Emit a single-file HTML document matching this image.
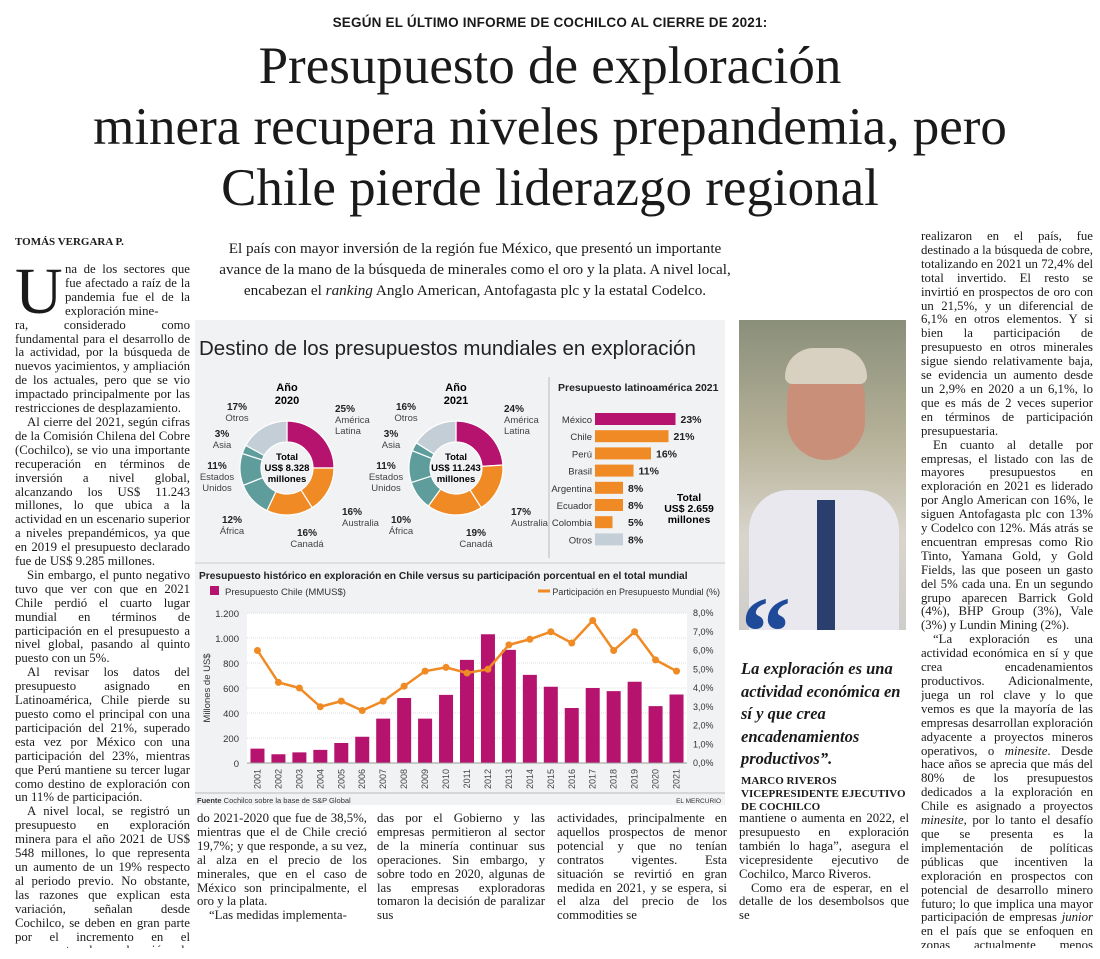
<!DOCTYPE html>
<html><head><meta charset="utf-8">
<style>
body{margin:0;width:1100px;height:959px;background:#fff;overflow:hidden;position:relative;font-family:"Liberation Serif",serif;color:#1a1a1a}
.abs{position:absolute}
.col{position:absolute;font-size:12.8px;line-height:13.9px;text-align:justify;hyphens:auto;overflow:hidden}
.col p{margin:0;text-indent:12px}
.sans{font-family:"Liberation Sans",sans-serif}
</style></head><body>
<div class="abs sans" style="left:0;width:1100px;top:15px;text-align:center;font-weight:bold;font-size:13.5px;letter-spacing:0.2px">SEGÚN EL ÚLTIMO INFORME DE COCHILCO AL CIERRE DE 2021:</div>
<div class="abs" style="left:0;width:1100px;top:36px;text-align:center;font-size:53px;line-height:61px">Presupuesto de exploración<br>minera recupera niveles prepandemia, pero<br>Chile pierde liderazgo regional</div>
<div class="abs" style="left:15px;top:236px;font-size:11px;font-weight:bold">TOMÁS VERGARA P.</div>
<div class="abs" style="left:215px;width:520px;top:238px;text-align:center;font-size:15.2px;line-height:21px">El país con mayor inversión de la región fue México, que presentó un importante<br>avance de la mano de la búsqueda de minerales como el oro y la plata. A nivel local,<br>encabezan el <i>ranking</i> Anglo American, Antofagasta plc y la estatal Codelco.</div>

<div class="col" style="left:15px;top:263px;width:175px;height:685px">
<span class="abs" style="left:0;top:-4px;font-size:66px;line-height:66px">U</span>
<p style="text-indent:0;padding-left:50px">na de los sectores que fue afectado a raíz de la pandemia fue el de la exploración mine-</p>
<p style="text-indent:0">ra, considerado como fundamental para el desarrollo de la actividad, por la búsqueda de nuevos yacimientos, y ampliación de los actuales, pero que se vio impactado principalmente por las restricciones de desplazamiento.</p>
<p>Al cierre del 2021, según cifras de la Comisión Chilena del Cobre (Cochilco), se vio una importante recuperación en términos de inversión a nivel global, alcanzando los US$ 11.243 millones, lo que ubica a la actividad en un escenario superior a niveles prepandémicos, ya que en 2019 el presupuesto declarado fue de US$ 9.285 millones.</p>
<p>Sin embargo, el punto negativo tuvo que ver con que en 2021 Chile perdió el cuarto lugar mundial en términos de participación en el presupuesto a nivel global, pasando al quinto puesto con un 5%.</p>
<p>Al revisar los datos del presupuesto asignado en Latinoamérica, Chile pierde su puesto como el principal con una participación del 21%, superado esta vez por México con una participación del 23%, mientras que Perú mantiene su tercer lugar como destino de exploración con un 11% de participación.</p>
<p>A nivel local, se registró un presupuesto en exploración minera para el año 2021 de US$ 548 millones, lo que representa un aumento de un 19% respecto al periodo previo. No obstante, las razones que explican esta variación, señalan desde Cochilco, se deben en gran parte por el incremento en el presupuesto de exploración de México en el perio-</p>
</div>

<div class="col" style="left:921px;top:230px;width:172px;height:718px">
<p style="text-indent:0">realizaron en el país, fue destinado a la búsqueda de cobre, totalizando en 2021 un 72,4% del total invertido. El resto se invirtió en prospectos de oro con un 21,5%, y un diferencial de 6,1% en otros elementos. Y si bien la participación de presupuesto en otros minerales sigue siendo relativamente baja, se evidencia un aumento desde un 2,9% en 2020 a un 6,1%, lo que es más de 2 veces superior en términos de participación presupuestaria.</p>
<p>En cuanto al detalle por empresas, el listado con las de mayores presupuestos en exploración en 2021 es liderado por Anglo American con 16%, le siguen Antofagasta plc con 13% y Codelco con 12%. Más atrás se encuentran empresas como Rio Tinto, Yamana Gold, y Gold Fields, las que poseen un gasto del 5% cada una. En un segundo grupo aparecen Barrick Gold (4%), BHP Group (3%), Vale (3%) y Lundin Mining (2%).</p>
<p>“La exploración es una actividad económica en sí y que crea encadenamientos productivos. Adicionalmente, juega un rol clave y lo que vemos es que la mayoría de las empresas desarrollan exploración adyacente a proyectos mineros operativos, o <i>minesite</i>. Desde hace años se aprecia que más del 80% de los presupuestos dedicados a la exploración en Chile es asignado a proyectos <i>minesite</i>, por lo tanto el desafío que se presenta es la implementación de políticas públicas que incentiven la exploración en prospectos con potencial de desarrollo minero futuro; lo que implica una mayor participación de empresas <i>junior</i> en el país que se enfoquen en zonas actualmente menos exploradas”, resume Riveros.</p>
</div>

<div class="col" style="left:197px;top:812px;width:170px"><p style="text-indent:0">do 2021-2020 que fue de 38,5%, mientras que el de Chile creció 19,7%; y que responde, a su vez, al alza en el precio de los minerales, que en el caso de México son principalmente, el oro y la plata.</p><p>“Las medidas implementa-</p></div>
<div class="col" style="left:377px;top:812px;width:168px"><p style="text-indent:0">das por el Gobierno y las empresas permitieron al sector de la minería continuar sus operaciones. Sin embargo, y sobre todo en 2020, algunas de las empresas exploradoras tomaron la decisión de paralizar sus</p></div>
<div class="col" style="left:557px;top:812px;width:170px"><p style="text-indent:0">actividades, principalmente en aquellos prospectos de menor potencial y que no tenían contratos vigentes. Esta situación se revirtió en gran medida en 2021, y se espera, si el alza del precio de los commodities se</p></div>
<div class="col" style="left:739px;top:812px;width:170px"><p style="text-indent:0">mantiene o aumenta en 2022, el presupuesto en exploración también lo haga”, asegura el vicepresidente ejecutivo de Cochilco, Marco Riveros.</p><p>Como era de esperar, en el detalle de los desembolsos que se</p></div>

<div class="abs" style="left:739px;top:320px;width:167px;height:310px;background:linear-gradient(#8a8f7a,#b8b39a 40%,#d9d5cc 70%,#cfcdca);overflow:hidden">
<div class="abs" style="left:48px;top:40px;width:78px;height:100px;border-radius:40px;background:#c98f78"></div>
<div class="abs" style="left:46px;top:28px;width:82px;height:36px;border-radius:40px 40px 10px 10px;background:#d8d0c0"></div>
<div class="abs" style="left:10px;top:170px;width:150px;height:140px;border-radius:40px 40px 0 0;background:#e8e8ee"></div>
<div class="abs" style="left:78px;top:180px;width:18px;height:130px;background:#2b3f6e"></div>
</div>
<div class="abs" style="left:741px;top:582px;font-size:100px;line-height:100px;color:#1f4a9a;font-weight:bold">“</div>
<div class="abs" style="left:741px;top:658px;width:172px;font-size:16.5px;line-height:22.5px;font-style:italic;font-weight:bold">La exploración es una actividad económica en sí y que crea encadenamientos productivos”.</div>
<div class="abs" style="left:741px;top:775px;font-size:11px;line-height:13px;font-weight:bold">MARCO RIVEROS<br>VICEPRESIDENTE EJECUTIVO<br>DE COCHILCO</div>

<svg class="abs" style="left:195px;top:320px" width="530" height="485" font-family="Liberation Sans, sans-serif">
<rect width="530" height="485" fill="#f1f2f4"/>
<text x="4" y="35" font-size="20.5" fill="#222">Destino de los presupuestos mundiales en exploración</text>
<line x1="354" y1="57" x2="354" y2="238" stroke="#bbb"/>
<g id="donuts"></g>
<g id="latam"></g>
<line x1="0" y1="243" x2="530" y2="243" stroke="#ccc"/>
<text x="4" y="259" font-size="10.2" font-weight="bold" fill="#222">Presupuesto histórico en exploración en Chile versus su participación porcentual en el total mundial</text>
<rect x="15" y="266" width="9" height="9" fill="#b5136e"/>
<text x="30" y="275" font-size="9.5" fill="#333">Presupuesto Chile (MMUS$)</text>
<line x1="343" y1="271" x2="355" y2="271" stroke="#f08a24" stroke-width="3"/>
<text x="525" y="275" font-size="9" text-anchor="end" fill="#333">Participación en Presupuesto Mundial (%)</text>
<g id="combo"></g>
<line x1="0" y1="473" x2="530" y2="473" stroke="#bbb"/>
<text x="2" y="483" font-size="7.5" fill="#333"><tspan font-weight="bold">Fuente</tspan>  Cochilco sobre la base de S&amp;P Global</text>
<text x="526" y="483" font-size="6.5" text-anchor="end" fill="#333">EL MERCURIO</text>
</svg>

<script>
const donutLabels=["América Latina","Australia","Canadá","África","Estados Unidos","Asia","Otros"];
const donut2020=[25,16,16,12,11,3,17];
const donut2021=[24,17,19,10,11,3,16];
const latamCountries=["México","Chile","Perú","Brasil","Argentina","Ecuador","Colombia","Otros"];
const latamShare=[23,21,16,11,8,8,5,8];
const years=["2001","2002","2003","2004","2005","2006","2007","2008","2009","2010","2011","2012","2013","2014","2015","2016","2017","2018","2019","2020","2021"];
const budgetChile=[115,70,85,105,160,210,355,520,355,545,825,1030,905,705,610,440,600,575,650,455,548];
const worldShare=[6.0,4.3,4.0,3.0,3.3,2.8,3.3,4.1,4.9,5.1,4.8,5.0,6.3,6.6,7.0,6.4,7.6,6.0,7.0,5.5,4.9];
const leftTicks=["0","200","400","600","800","1.000","1.200"];
const rightTicks=["0,0%","1,0%","2,0%","3,0%","4,0%","5,0%","6,0%","7,0%","8,0%"];

const NS="http://www.w3.org/2000/svg";
function mk(parent,tag,attrs,text){const e=document.createElementNS(NS,tag);for(const k in attrs)e.setAttribute(k,attrs[k]);if(text!==undefined)e.textContent=text;parent.appendChild(e);return e;}
const sliceColors=["#b5136e","#f08a24","#f08a24","#5f9c9c","#5f9c9c","#5f9c9c","#c3ced6"];
const labelPos=[[48,-56,"start"],[55,47,"start"],[20,68,"middle"],[-55,55,"middle"],[-70,1,"middle"],[-65,-31,"middle"],[-50,-58,"middle"]];

function drawDonut(g,cx,cy,vals,year,total){
  const R=47,r=26;const sum=vals.reduce((a,b)=>a+b,0);let a0=-Math.PI/2;
  vals.forEach((v,i)=>{
    const a1=a0+v/sum*2*Math.PI;const lg=(a1-a0)>Math.PI?1:0;
    const p=`M${cx+R*Math.cos(a0)},${cy+R*Math.sin(a0)}A${R},${R} 0 ${lg} 1 ${cx+R*Math.cos(a1)},${cy+R*Math.sin(a1)}L${cx+r*Math.cos(a1)},${cy+r*Math.sin(a1)}A${r},${r} 0 ${lg} 0 ${cx+r*Math.cos(a0)},${cy+r*Math.sin(a0)}Z`;
    const s=mk(g,"path",{d:p,fill:sliceColors[i],stroke:"#fff","stroke-width":1.2});
    
    
    const [dx,dy,anc]=labelPos[i];const lx=cx+dx,ly=cy+dy;
    const t=mk(g,"text",{x:lx,y:ly,"font-size":10,"font-weight":"bold","text-anchor":anc,fill:"#222"},vals[i]+"%");
    
    
    const words=donutLabels[i]==="Estados Unidos"?["Estados","Unidos"]:donutLabels[i].split(" ");
    words.forEach((w,k)=>mk(g,"text",{x:lx,y:ly+11+k*11,"font-size":9.5,"text-anchor":anc,fill:"#444"},w));
    a0=a1;
  });
  mk(g,"text",{x:cx,y:cy-8,"font-size":9.5,"font-weight":"bold","text-anchor":"middle"},"Total");
  mk(g,"text",{x:cx,y:cy+3,"font-size":9.5,"font-weight":"bold","text-anchor":"middle"},"US$ "+total);
  mk(g,"text",{x:cx,y:cy+14,"font-size":9.5,"font-weight":"bold","text-anchor":"middle"},"millones");
  mk(g,"text",{x:cx,y:cy-77,"font-size":11,"font-weight":"bold","text-anchor":"middle"},"Año");
  mk(g,"text",{x:cx,y:cy-64,"font-size":11,"font-weight":"bold","text-anchor":"middle"},year);
}
const dg=document.getElementById("donuts");
drawDonut(dg,92,148,donut2020,"2020","8.328");
drawDonut(dg,261,148,donut2021,"2021","11.243");

const lg=document.getElementById("latam");
mk(lg,"text",{x:363,y:71,"font-size":10.5,"font-weight":"bold",fill:"#222"},"Presupuesto latinoamérica 2021");
latamCountries.forEach((c,i)=>{
  const y=99+i*17.2;const w=latamShare[i]*3.5;
  mk(lg,"text",{x:397,y:y+4,"font-size":9.5,"text-anchor":"end",fill:"#333"},c);
  const b=mk(lg,"rect",{x:400,y:y-6,width:w,height:12,fill:i===0?"#b5136e":(c==="Otros"?"#c3ced6":"#f08a24")});
  
  
  mk(lg,"text",{x:405+Math.max(w,28),y:y+4,"font-size":10.5,"font-weight":"bold",fill:"#222"},latamShare[i]+"%");
});
["Total","US$ 2.659","millones"].forEach((t,k)=>mk(lg,"text",{x:494,y:181+k*11,"font-size":10.5,"font-weight":"bold","text-anchor":"middle"},t));

const cg=document.getElementById("combo");
const px0=52,px1=492,py0=443,py1=293;
const xs=i=>px0+(px1-px0)*(i+0.5)/years.length;
const yl=v=>py0-(py0-py1)*v/1200;
const yr=v=>py0-(py0-py1)*v/8;
mk(cg,"rect",{x:px0,y:py1,width:px1-px0,height:py0-py1,fill:"#fff"});
leftTicks.forEach((t,i)=>{const y=yl(i*200);
  mk(cg,"line",{x1:px0,x2:px1,y1:y,y2:y,stroke:"#ddd","stroke-dasharray":"1,1"});
  mk(cg,"text",{x:px0-8,y:y+4,"font-size":9.5,"text-anchor":"end",fill:"#333"},t);});
rightTicks.forEach((t,i)=>{mk(cg,"text",{x:px1+6,y:yr(i)+3,"font-size":9,fill:"#333"},t);});
mk(cg,"text",{x:0,y:0,"font-size":9.5,fill:"#333",transform:`translate(15,${(py0+py1)/2}) rotate(-90)`,"text-anchor":"middle"},"Millones de US$");
const bw=14;
years.forEach((yy,i)=>{
  const b=mk(cg,"rect",{x:xs(i)-bw/2,y:yl(budgetChile[i]),width:bw,height:py0-yl(budgetChile[i]),fill:"#b5136e"});
  
  
  mk(cg,"text",{x:0,y:0,"font-size":9,fill:"#444","text-anchor":"end",transform:`translate(${xs(i)+3},${py0+6}) rotate(-90)`},yy);
});
mk(cg,"line",{x1:px0,x2:px1,y1:py0,y2:py0,stroke:"#999"});
const pts=worldShare.map((v,i)=>xs(i)+","+yr(v)).join(" ");
const pl=mk(cg,"polyline",{points:pts,fill:"none",stroke:"#f08a24","stroke-width":2.5});


worldShare.forEach((v,i)=>{const c=mk(cg,"circle",{cx:xs(i),cy:yr(v),r:3.5,fill:"#f08a24"});
  
  });
</script>
</body></html>
